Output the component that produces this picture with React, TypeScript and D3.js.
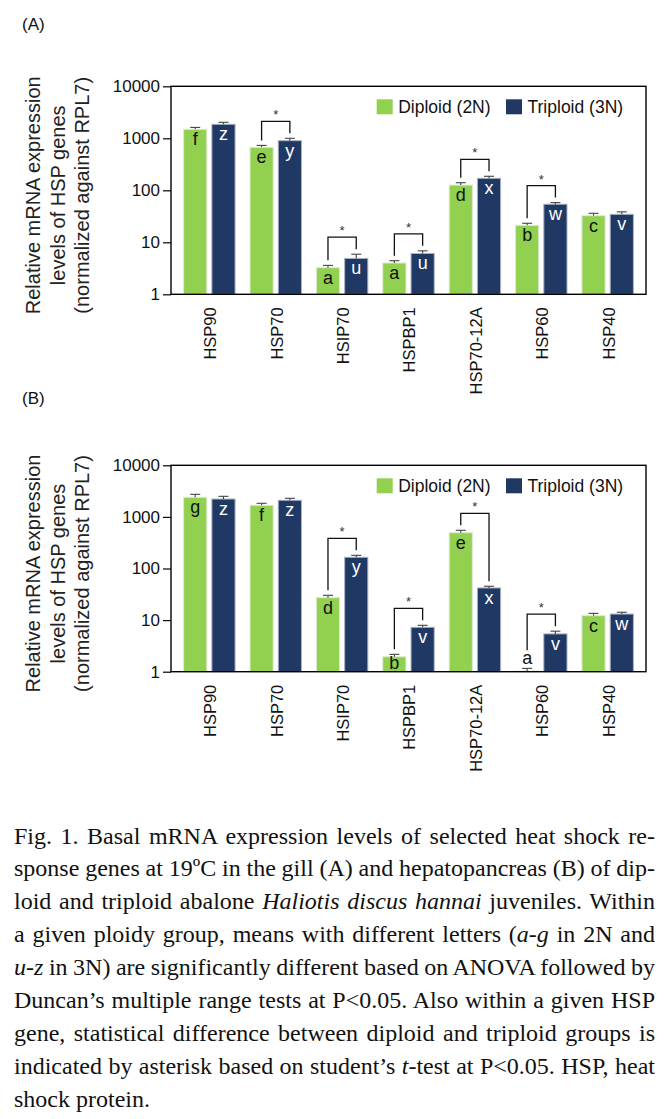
import React, { useEffect, useRef } from "react";
import * as d3 from "d3";

// gene names and groups
const genes = ["HSP90", "HSP70", "HSIP70", "HSPBP1", "HSP70-12A", "HSP60", "HSP40"];
const groups = ["2N", "3N"];
const yTicks = [1, 10, 100, 1000, 10000];

// (A) gill
const gill2N = [1490, 670, 3.25, 4.0, 126, 21.2, 32.5];
const gill2NErr = [130, 60, 0.35, 0.43, 14, 2, 3.6];
const gill3N = [1860, 900, 4.9, 6.1, 170, 54, 34.5];
const gill3NErr = [170, 100, 1.0, 0.75, 16, 4, 4];
const gillLetters2N = ["f", "e", "a", "a", "d", "b", "c"];
const gillLetters3N = ["z", "y", "u", "u", "x", "w", "v"];
const gillSig = [false, true, true, true, true, true, false];

// (B) hepatopancreas
const hep2N = [2400, 1680, 27.2, 1.95, 494, 1.03, 12.2];
const hep2NErr = [340, 155, 3, 0.22, 56, 0.13, 1.3];
const hep3N = [2220, 2100, 165, 7.25, 42, 5.4, 13.1];
const hep3NErr = [285, 195, 15, 0.68, 3.3, 0.7, 1.1];
const hepLetters2N = ["g", "f", "d", "b", "e", "a", "c"];
const hepLetters3N = ["z", "z", "y", "v", "x", "v", "w"];
const hepSig = [false, false, true, true, true, true, false];

const legendLabels = ["Diploid (2N)", "Triploid (3N)"];

// caption lines, [text, italic]
const captionLines: [string, boolean][][] = [
  [["Fig. 1. Basal mRNA expression levels of selected heat shock re-", false]],
  [["sponse genes at 19ºC in the gill (A) and hepatopancreas (B) of dip-", false]],
  [["loid and triploid abalone ", false], ["Haliotis discus hannai", true], [" juveniles. Within", false]],
  [["a given ploidy group, means with different letters (", false], ["a-g", true], [" in 2N and", false]],
  [["u-z", true], [" in 3N) are significantly different based on ANOVA followed by", false]],
  [["Duncan’s multiple range tests at P<0.05. Also within a given HSP", false]],
  [["gene, statistical difference between diploid and triploid groups is", false]],
  [["indicated by asterisk based on student’s ", false], ["t", true], ["-test at P<0.05. HSP, heat", false]],
  [["shock protein.", false]],
];

const GREEN = "#92d050";
const NAVY = "#1f3864";
const SANS = "Arial, 'Liberation Sans', sans-serif";
const SERIF = "'Times New Roman', 'Liberation Serif', serif";

type PanelProps = {
  tag: string;
  tagY: number;
  top: number;
  bottom: number;
  v2: number[];
  e2: number[];
  v3: number[];
  e3: number[];
  l2: string[];
  l3: string[];
  sig: boolean[];
};

const Panel = ({ tag, tagY, top, bottom, v2, e2, v3, e3, l2, l3, sig }: PanelProps) => {
  const yAxisRef = useRef<SVGGElement>(null);
  const xAxisRef = useRef<SVGGElement>(null);
  const left = 171;
  const right = 646;

  const x = d3.scaleBand<string>().domain(genes).range([left, right]).paddingInner(0.225).paddingOuter(0.19);
  const sub = d3.scaleBand<string>().domain(groups).range([0, x.bandwidth()]).paddingInner(0.18);
  const y = d3.scaleLog().domain([1, 10000]).range([bottom, top]);
  const bw = sub.bandwidth();

  useEffect(() => {
    const ga = d3.select(yAxisRef.current);
    ga.call(d3.axisLeft(y).tickValues(yTicks).tickFormat(d3.format("d")).tickSize(8).tickPadding(3) as any);
    ga.select(".domain").remove();
    ga.selectAll(".tick line").attr("stroke", "#000").attr("stroke-width", 1.2);
    ga.selectAll(".tick text").attr("font-size", 17).attr("font-family", SANS).attr("fill", "#111");

    const gx = d3.select(xAxisRef.current);
    gx.call(d3.axisBottom(x).tickSize(0).tickPadding(0) as any);
    gx.select(".domain").remove();
    gx.selectAll(".tick text")
      .attr("transform", "rotate(-90)")
      .attr("x", -13)
      .attr("y", 0)
      .attr("dy", "0.42em")
      .attr("text-anchor", "end")
      .attr("font-size", 16.5)
      .attr("font-family", SANS)
      .attr("fill", "#111");
  }, []);

  const midY = (top + bottom) / 2 + 5;

  return (
    <g>
      <text x={22} y={tagY} fontSize={17} fontFamily={SANS} fill="#111">{tag}</text>

      {/* y title */}
      {["Relative mRNA expression", "levels of HSP genes", "(normalized against RPL7)"].map((t, i) => (
        <text
          key={t}
          transform={`translate(${40 + i * 24.5},${midY}) rotate(-90)`}
          textAnchor="middle"
          fontSize={20}
          fontFamily={SANS}
          fill="#222"
        >
          {t}
        </text>
      ))}

      {genes.map((g, i) => {
        const vals = [v2[i], v3[i]];
        const errs = [e2[i], e3[i]];
        const letters = [l2[i], l3[i]];
        const info = groups.map((grp, j) => {
          const bx = (x(g) as number) + (sub(grp) as number);
          const cx = bx + bw / 2;
          const by = y(vals[j]);
          const et = y(vals[j] + errs[j]);
          const above = bottom - by < 8;
          const ly = above ? et - 4 : Math.min(by + 16, bottom - 3);
          const legEnd = above ? ly - 14 : et - 5;
          return { grp, bx, cx, by, et, ly, above, legEnd, letter: letters[j], j };
        });
        const bracketY = Math.min(info[0].et, info[1].et) - 17;
        return (
          <g key={g}>
            {info.map((d) => (
              <g key={d.grp}>
                <rect
                  x={d.bx}
                  y={d.by}
                  width={bw}
                  height={bottom - d.by}
                  fill={d.j === 0 ? GREEN : NAVY}
                  stroke={d.j === 0 ? "#dfe9d2" : "#aab2c2"}
                  strokeWidth={1}
                />
                <line x1={d.cx} x2={d.cx} y1={d.by} y2={d.et} stroke="#444" strokeWidth={1.1} />
                <line x1={d.cx - 5} x2={d.cx + 5} y1={d.et} y2={d.et} stroke="#444" strokeWidth={1.1} />
                <text
                  x={d.cx}
                  y={d.ly}
                  textAnchor="middle"
                  fontSize={18}
                  fontFamily={SANS}
                  fill={d.j === 0 || d.above ? "#111" : "#fff"}
                >
                  {d.letter}
                </text>
              </g>
            ))}
            {sig[i] && (
              <g>
                <path
                  d={`M${info[0].cx},${info[0].legEnd}V${bracketY}H${info[1].cx}V${info[1].legEnd}`}
                  fill="none"
                  stroke="#111"
                  strokeWidth={1.3}
                />
                <text
                  x={(info[0].cx + info[1].cx) / 2}
                  y={bracketY - 2}
                  textAnchor="middle"
                  fontSize={13}
                  fontFamily={SANS}
                  fill="#333"
                >
                  *
                </text>
              </g>
            )}
          </g>
        );
      })}

      {/* frame */}
      <rect x={left} y={top} width={right - left} height={bottom - top} fill="none" stroke="#000" strokeWidth={1.4} />
      <g ref={yAxisRef} transform={`translate(${left},0)`} />
      <g ref={xAxisRef} transform={`translate(0,${bottom})`} />

      {/* legend */}
      {legendLabels.map((t, j) => (
        <g key={t} transform={`translate(${[376.7, 506][j]},${top + 13})`}>
          <rect width={16} height={15} fill={j === 0 ? GREEN : NAVY} />
          <text x={21.5} y={14} fontSize={17.5} fontFamily={SANS} fill="#111">{t}</text>
        </g>
      ))}
    </g>
  );
};

const Caption = () => {
  const ref = useRef<SVGGElement>(null);
  const x0 = 14;
  const x1 = 655;

  useEffect(() => {
    const nodes = d3.select(ref.current).selectAll<SVGTextElement, unknown>("text").nodes();
    nodes.forEach((node, i) => {
      if (i === nodes.length - 1) return;
      const full = captionLines[i].map((s) => s[0]).join("");
      const spaces = (full.match(/ /g) || []).length;
      const len = node.getComputedTextLength();
      if (spaces > 0) node.style.wordSpacing = `${(x1 - x0 - len) / spaces}px`;
    });
  }, []);

  return (
    <g ref={ref}>
      {captionLines.map((line, i) => (
        <text key={i} x={x0} y={843.5 + i * 32.9} fontSize={24} fontFamily={SERIF} fill="#111">
          {line.map(([t, it], k) => (
            <tspan key={k} fontStyle={it ? "italic" : "normal"}>{t}</tspan>
          ))}
        </text>
      ))}
    </g>
  );
};

export default function App() {
  return (
    <svg
      width={670}
      height={1119}
      viewBox="0 0 670 1119"
      style={{ position: "absolute", left: 0, top: 0, background: "#fff" }}
    >
      <rect width={670} height={1119} fill="#fff" />
      <Panel
        tag="(A)"
        tagY={30}
        top={86.3}
        bottom={294.3}
        v2={gill2N}
        e2={gill2NErr}
        v3={gill3N}
        e3={gill3NErr}
        l2={gillLetters2N}
        l3={gillLetters3N}
        sig={gillSig}
      />
      <Panel
        tag="(B)"
        tagY={404}
        top={465.3}
        bottom={671.7}
        v2={hep2N}
        e2={hep2NErr}
        v3={hep3N}
        e3={hep3NErr}
        l2={hepLetters2N}
        l3={hepLetters3N}
        sig={hepSig}
      />
      <Caption />
    </svg>
  );
}
